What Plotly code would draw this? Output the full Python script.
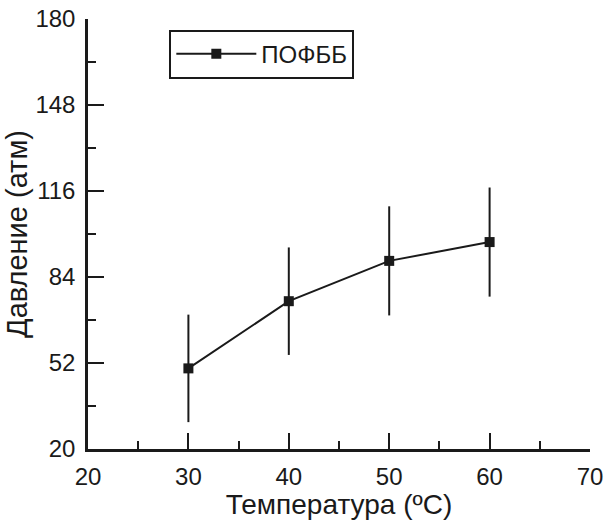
import plotly.graph_objects as go

temperature = [30, 40, 50, 60]
pressure = [50, 75, 90, 97]
pressure_err = [20, 20, 20.3, 20.3]
series_name = "ПОФББ"
x_title = "Температура (ºC)"
y_title = "Давление (атм)"
y_ticks = [20, 52, 84, 116, 148, 180]
x_ticks = [20, 30, 40, 50, 60, 70]

ink = "#1a1a1a"
font_family = "Liberation Sans, Arial, sans-serif"

fig = go.Figure()
fig.add_trace(go.Scatter(
    x=temperature, y=pressure, name=series_name, mode="lines+markers",
    line=dict(color=ink, width=2),
    marker=dict(symbol="square", size=10, color=ink),
    error_y=dict(type="data", array=pressure_err, visible=True, color=ink, thickness=2, width=0),
))

axis_common = dict(
    ticks="inside", ticklen=16, tickwidth=2, tickcolor=ink,
    showline=True, linecolor=ink, linewidth=2.5,
    showgrid=False, zeroline=False, automargin=False,
    tickfont=dict(size=24, family=font_family, color=ink),
)

fig.update_layout(
    template="none",
    width=605, height=520,
    margin=dict(l=88, r=15, t=19, b=71),
    plot_bgcolor="white", paper_bgcolor="white",
    font=dict(family=font_family, size=24, color=ink),
    showlegend=True,
    legend=dict(
        x=0.162, y=0.975, xanchor="left", yanchor="top",
        bordercolor=ink, borderwidth=2, bgcolor="white",
        font=dict(size=24, family=font_family, color=ink), itemwidth=80,
    ),
    xaxis=dict(
        range=[20, 70], tickvals=x_ticks,
        minor=dict(ticks="inside", ticklen=8, tickwidth=2, dtick=5, tick0=20, tickcolor=ink, showgrid=False),
        title=dict(text=x_title, standoff=9, font=dict(size=28, family=font_family, color=ink)),
        ticklabelstandoff=4,
        **axis_common,
    ),
    yaxis=dict(
        range=[20, 180], tickvals=y_ticks,
        minor=dict(ticks="inside", ticklen=8, tickwidth=2, dtick=16, tick0=20, tickcolor=ink, showgrid=False),
        title=dict(text=y_title, standoff=0, font=dict(size=29, family=font_family, color=ink)),
        ticklabelstandoff=5,
        **axis_common,
    ),
)

fig.write_html("out.html")
